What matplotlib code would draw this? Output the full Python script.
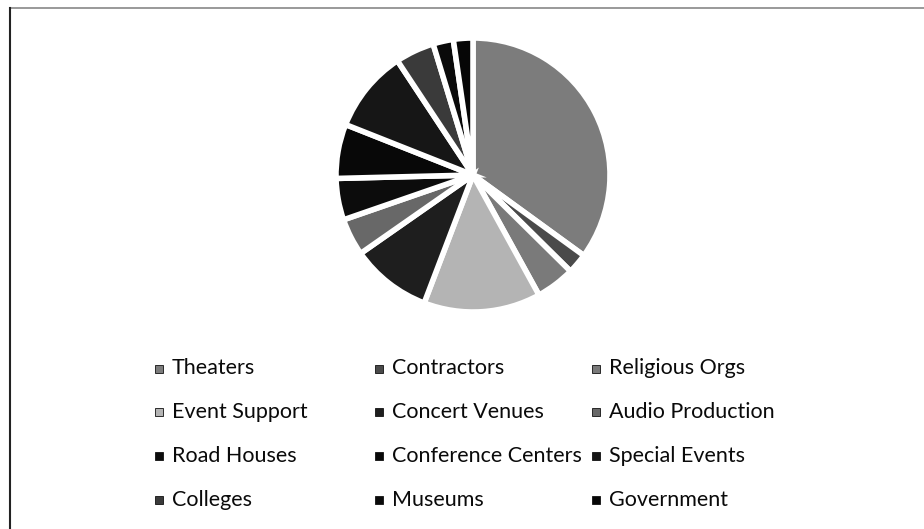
import matplotlib.pyplot as plt
from matplotlib.patches import Rectangle
from matplotlib.lines import Line2D

labels = ["Theaters", "Contractors", "Religious Orgs", "Event Support",
          "Concert Venues", "Audio Production", "Road Houses",
          "Conference Centers", "Special Events", "Colleges", "Museums",
          "Government"]
shares = [35.0, 2.4, 4.6, 13.8, 9.5, 4.4, 4.9, 6.4, 9.7, 4.6, 2.4, 2.3]
colors = ["#7c7c7c", "#4a4a4a", "#7a7a7a", "#b4b4b4", "#1e1e1e", "#686868",
          "#0c0c0c", "#080808", "#161616", "#3a3a3a", "#0a0a0a", "#060606"]

W, H = 924, 529
fig = plt.figure(figsize=(W / 100, H / 100), dpi=100)

# pie, centred at (473, 175) px, radius ~137 px
cx, cy, r = 473, 175, 137
ax = fig.add_axes([(cx - r) / W, (H - cy - r) / H, 2 * r / W, 2 * r / H])
ax.pie(shares, colors=colors, startangle=90, counterclock=False,
       wedgeprops=dict(edgecolor="white", linewidth=4))
ax.set_xlim(-1, 1)
ax.set_ylim(-1, 1)
ax.set_aspect("equal")

# frame lines (top and left only)
fig.add_artist(Line2D([9.5 / W, 1], [1 - 7.5 / H] * 2, color="#888888", lw=1.2,
                      transform=fig.transFigure))
fig.add_artist(Line2D([9.5 / W] * 2, [0, 1 - 7.5 / H], color="#222222", lw=1.5,
                      transform=fig.transFigure))

# legend, laid out in a fixed 3-column grid like the original
col_x = [155, 375, 592]
row_y = [368.5, 412, 456, 500]
sq = 8
for i, (lab, col) in enumerate(zip(labels, colors)):
    x = col_x[i % 3]
    y = row_y[i // 3]
    fig.add_artist(Rectangle((x / W, (H - y - sq / 2) / H), sq / W, sq / H,
                             facecolor=col, edgecolor="#111111", lw=0.6,
                             transform=fig.transFigure))
    fig.text((x + 17) / W, (H - y) / H, lab, fontsize=15.5, family="Lato",
             va="center", ha="left", color="#0a0a0a")

fig.savefig("out.png", dpi=100)
